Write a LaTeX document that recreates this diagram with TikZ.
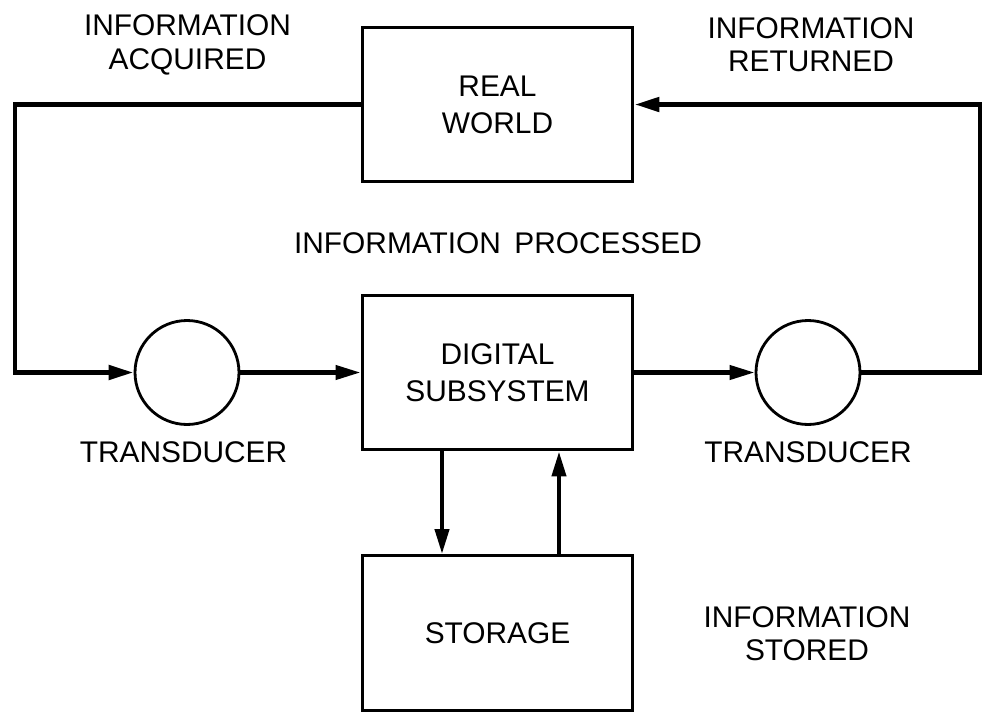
\documentclass[tikz,border=0pt]{standalone}
\usepackage{fontspec}
\setmainfont{Liberation Sans}
\usetikzlibrary{positioning,arrows.meta}
\tikzset{
    block/.style={
        draw,
        line width=1.7pt,
        minimum width=5.42cm,
        minimum height=3.1cm,
        align=center,
        inner sep=0pt,
        font=\fontsize{17}{21}\selectfont
    },
    transducer/.style={
        draw,
        circle,
        line width=1.6pt,
        minimum size=2.08cm,
        inner sep=0pt
    },
    caption/.style={
        align=center,
        inner sep=0pt,
        font=\fontsize{17}{19}\selectfont
    },
    arrow/.style={-{Triangle[length=0.5cm,width=0.28cm]}, line width=2.4pt},
    rail/.style={arrow, line width=2.8pt}
}

\begin{document}
\begin{tikzpicture}[x=0.02cm,y=-0.02cm]
\useasboundingbox (0,0) rectangle (988,717);

% Boxes
\node[block] (world)   at (497.5,104.5) {REAL\\WORLD};
\node[block] (digital) at (497.5,372.5) {DIGITAL\\SUBSYSTEM};
\node[block] (storage) at (497.5,633)   {STORAGE};

% Transducers
\node[transducer] (inxd)  at (187,372.5) {};
\node[transducer] (outxd) at (808,372.5) {};

% Labels
\node[caption] (acquired)  at (187.5,45) {INFORMATION\\ACQUIRED};
\node[caption] (returned)  at (811,45)   {INFORMATION\\RETURNED};
\node[caption] (processed) at (498,243)  {INFORMATION\hspace{0.45em}PROCESSED};
\node[caption] (inlabel)   at (183.5,452) {TRANSDUCER};
\node[caption] (outlabel)  at (808,452)   {TRANSDUCER};
\node[caption] (stored)    at (807,634)   {INFORMATION\\STORED};

% Loop
\coordinate (leftrail)  at (15,372.5);
\coordinate (rightrail) at (980,372.5);

\draw[rail]  (world.west) -| (leftrail) -- (inxd.west);
\draw[arrow] (inxd.east) -- (digital.west);
\draw[arrow] (digital.east) -- (outxd.west);
\draw[rail]  (outxd.east) -- (rightrail) |- (world.east);

% Storage
\draw[arrow] ([xshift=-1.11cm]digital.south) -- ([xshift=-1.11cm]storage.north);
\draw[arrow] ([xshift=1.23cm]storage.north) -- ([xshift=1.23cm]digital.south);

\end{tikzpicture}
\end{document}
